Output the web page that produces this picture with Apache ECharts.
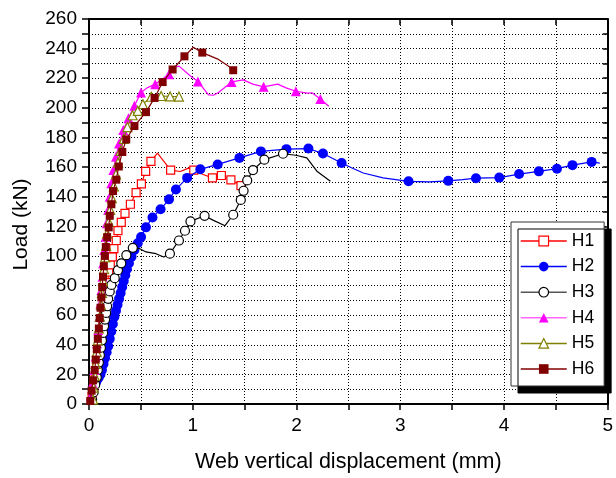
<!DOCTYPE html>
<html><head><meta charset="utf-8">
<script src="https://cdn.jsdelivr.net/npm/echarts@6/dist/echarts.min.js"></script>
<style>html,body{margin:0;padding:0;background:#fff}#c{width:616px;height:478px}</style>
</head><body><div id="c"></div>
<script>
// ---- data (x: web vertical displacement mm, y: load kN) ----
const seriesNames = ['H1','H2','H3','H4','H5','H6'];
const xTicks = [0,1,2,3,4,5];
const yTicks = [0,20,40,60,80,100,120,140,160,180,200,220,240,260];

const h1Line = [[0.02,0],[0.03,5],[0.045,12],[0.06,19],[0.075,26],[0.09,33],[0.105,40],[0.12,47],[0.135,54],[0.15,61],[0.16,68],[0.17,75],[0.18,82],[0.19,89],[0.205,94],[0.225,99.3],[0.24,104.9],[0.263,110.4],[0.279,117.1],[0.311,122.7],[0.347,128.7],[0.399,134.9],[0.454,142.7],[0.505,148.7],[0.546,157.1],[0.597,163.8],[0.66,169.5],[0.787,158],[0.88,157],[0.96,159.3],[1.01,158],[1.1,155],[1.19,152.7],[1.276,154.3],[1.368,151.3],[1.465,147.5]];
const h1Marks = [[0.03,5],[0.045,12],[0.06,19],[0.075,26],[0.09,33],[0.105,40],[0.12,47],[0.135,54],[0.15,61],[0.16,68],[0.17,75],[0.18,82],[0.19,89],[0.205,94],[0.225,99.3],[0.24,104.9],[0.263,110.4],[0.279,117.1],[0.311,122.7],[0.347,128.7],[0.399,134.9],[0.454,142.7],[0.505,148.7],[0.546,157.1],[0.597,163.8],[0.787,158],[1.01,158],[1.19,152.7],[1.276,154.3],[1.368,151.3],[1.465,147.5]];

const h2Line = [[0.07,15],[0.08,16.5],[0.095,18],[0.11,20],[0.125,23],[0.14,27],[0.155,31],[0.17,35],[0.185,39],[0.2,44],[0.215,49],[0.23,54],[0.245,59],[0.26,63],[0.275,67],[0.29,71],[0.305,75],[0.32,79],[0.335,83],[0.35,87],[0.365,91],[0.385,95],[0.41,99.5],[0.438,104],[0.47,108.5],[0.502,112.7],[0.549,119.3],[0.612,126],[0.69,131.5],[0.771,138.2],[0.838,144.9],[0.946,152.7],[1.073,158.5],[1.24,161.8],[1.45,166.2],[1.657,170.6],[1.903,172.1],[2.115,172.5],[2.255,169.2],[2.435,162.8],[2.53,159.5],[2.644,156],[2.835,152.7],[3.08,150.4],[3.28,150],[3.463,150.7],[3.6,151.5],[3.73,152.5],[3.955,152.9],[4.146,155.3],[4.336,157.1],[4.511,158.9],[4.66,161.3],[4.845,163.5],[4.924,162.7]];
const h2Marks = [[0.07,15],[0.08,16.5],[0.095,18],[0.11,20],[0.125,23],[0.14,27],[0.155,31],[0.17,35],[0.185,39],[0.2,44],[0.215,49],[0.23,54],[0.245,59],[0.26,63],[0.275,67],[0.29,71],[0.305,75],[0.32,79],[0.335,83],[0.35,87],[0.365,91],[0.385,95],[0.41,99.5],[0.438,104],[0.47,108.5],[0.502,112.7],[0.549,119.3],[0.612,126],[0.69,131.5],[0.771,138.2],[0.838,144.9],[0.946,152.7],[1.073,158.5],[1.24,161.8],[1.45,166.2],[1.657,170.6],[1.903,172.1],[2.115,172.5],[2.255,169.2],[2.435,162.8],[3.08,150.4],[3.463,150.7],[3.73,152.5],[3.955,152.9],[4.146,155.3],[4.336,157.1],[4.511,158.9],[4.66,161.3],[4.845,163.5]];

const h3Line = [[0.02,0],[0.03,3],[0.045,8],[0.06,13],[0.075,18],[0.085,23],[0.095,28],[0.105,33],[0.115,38],[0.125,43],[0.136,48],[0.145,52.5],[0.155,57],[0.165,61.5],[0.175,66],[0.185,71],[0.2,76],[0.216,80.4],[0.248,85],[0.279,90.4],[0.311,95],[0.36,100.5],[0.422,105.5],[0.486,105],[0.549,102.7],[0.645,101.5],[0.72,99.3],[0.78,101.5],[0.867,110.4],[0.925,117],[0.978,123.3],[1.114,127.1],[1.2,124],[1.311,120.4],[1.39,127.8],[1.463,137.8],[1.49,144],[1.525,151],[1.581,158],[1.69,165],[1.87,169],[1.994,168],[2.1,166.2],[2.2,157],[2.327,150.4]];
const h3Marks = [[0.03,3],[0.045,8],[0.06,13],[0.075,18],[0.085,23],[0.095,28],[0.105,33],[0.115,38],[0.125,43],[0.136,48],[0.145,52.5],[0.155,57],[0.165,61.5],[0.175,66],[0.185,71],[0.2,76],[0.216,80.4],[0.248,85],[0.279,90.4],[0.311,95],[0.36,100.5],[0.422,105.5],[0.78,101.5],[0.867,110.4],[0.925,117],[0.978,123.3],[1.114,127.1],[1.39,127.8],[1.463,137.8],[1.49,144],[1.525,151],[1.581,158],[1.69,165],[1.87,169]];

const h4Line = [[0.01,0],[0.018,5],[0.035,14],[0.05,23],[0.065,32],[0.077,41],[0.09,50],[0.1,59],[0.11,68],[0.12,77],[0.13,86],[0.137,95],[0.148,104],[0.16,113],[0.17,122],[0.185,131],[0.2,140],[0.215,149],[0.235,158],[0.26,167],[0.29,176],[0.33,185],[0.38,193],[0.438,201.5],[0.502,210.4],[0.56,213.5],[0.638,216],[0.771,222.7],[0.803,227],[0.867,228.2],[0.978,221.5],[1.05,217.8],[1.152,208.7],[1.2,208.5],[1.248,210.4],[1.375,217.5],[1.486,218.9],[1.58,216],[1.683,214.2],[1.819,216],[1.9,213.5],[1.994,211.2],[2.105,210],[2.15,210.2],[2.23,206],[2.311,201.1]];
const h4Marks = [[0.018,5],[0.035,14],[0.05,23],[0.065,32],[0.077,41],[0.09,50],[0.1,59],[0.11,68],[0.12,77],[0.13,86],[0.137,95],[0.148,104],[0.16,113],[0.17,122],[0.185,131],[0.2,140],[0.215,149],[0.235,158],[0.26,167],[0.29,176],[0.33,185],[0.38,193],[0.438,201.5],[0.502,210.4],[0.638,216],[0.771,222.7],[1.05,217.8],[1.375,217.5],[1.683,214.2],[1.994,211.2],[2.23,206]];

const h5Line = [[0.04,0],[0.04,3],[0.045,11],[0.055,19],[0.065,27],[0.075,35],[0.085,43],[0.095,51],[0.105,59],[0.115,67],[0.125,75],[0.135,83],[0.145,91],[0.155,99],[0.165,107],[0.175,115],[0.19,123],[0.205,131],[0.22,139],[0.24,147],[0.26,155],[0.28,163],[0.305,171],[0.335,179],[0.37,187],[0.42,195],[0.47,198],[0.52,202.5],[0.6,207.5],[0.695,208],[0.782,207.7],[0.867,207.6],[0.9,205]];
const h5Marks = [[0.04,3],[0.045,11],[0.055,19],[0.065,27],[0.075,35],[0.085,43],[0.095,51],[0.105,59],[0.115,67],[0.125,75],[0.135,83],[0.145,91],[0.155,99],[0.165,107],[0.175,115],[0.19,123],[0.205,131],[0.22,139],[0.24,147],[0.26,155],[0.28,163],[0.305,171],[0.335,179],[0.37,187],[0.42,195],[0.47,198],[0.52,202.5],[0.6,207.5],[0.695,208],[0.782,207.7],[0.867,207.6]];

const h6Line = [[0.01,0],[0.012,2],[0.025,9],[0.04,16],[0.055,23],[0.065,30],[0.075,37],[0.085,44],[0.095,51],[0.103,58],[0.111,65],[0.119,72],[0.127,79],[0.135,86],[0.143,93],[0.152,100],[0.162,106],[0.175,112.7],[0.19,119.3],[0.2,127.1],[0.216,134.9],[0.232,143.8],[0.263,151.5],[0.287,160.4],[0.321,170.2],[0.359,178.7],[0.438,187.7],[0.549,197.1],[0.632,206.7],[0.71,217.4],[0.806,225.9],[0.92,234.8],[1.005,240.9],[1.092,237.3],[1.248,232.7],[1.343,228.2],[1.39,225.4]];
const h6Marks = [[0.012,2],[0.025,9],[0.04,16],[0.055,23],[0.065,30],[0.075,37],[0.085,44],[0.095,51],[0.103,58],[0.111,65],[0.119,72],[0.127,79],[0.135,86],[0.143,93],[0.152,100],[0.162,106],[0.175,112.7],[0.19,119.3],[0.2,127.1],[0.216,134.9],[0.232,143.8],[0.263,151.5],[0.287,160.4],[0.321,170.2],[0.359,178.7],[0.438,187.7],[0.549,197.1],[0.632,206.7],[0.71,217.4],[0.806,225.9],[0.92,234.8],[1.092,237.3],[1.39,225.4]];

const lines = [h1Line,h2Line,h3Line,h4Line,h5Line,h6Line];
const marks = [h1Marks,h2Marks,h3Marks,h4Marks,h5Marks,h6Marks];

// ---- styles ----
const colors = ['#ff0000','#0000ff','#000000','#ff00ff','#808000','#800000'];
const legendLineColors = ['#ff0000','#0000ff','#555555','#ff66ff','#808000','#800000'];
const symbols = ['rect','circle','circle','triangle','triangle','rect'];
const hollow = [true,false,true,false,true,false];
const sizes = [8,10,9,10,9,8];
const FONT = 'Liberation Sans, Arial, sans-serif';

const series = [];
seriesNames.forEach((n,i)=>{
  series.push({
    name:n, type:'line', data:lines[i], symbol:symbols[i], showSymbol:false,
    lineStyle:{color:colors[i], width:1.2}, itemStyle:{color:colors[i]},
    silent:true, animation:false, z:2+i*2
  });
  series.push({
    name:n, type:'scatter', data:marks[i], symbol:symbols[i], symbolSize:sizes[i],
    itemStyle: hollow[i] ? {color:'#fff', borderColor:colors[i], borderWidth:1.2, opacity:1}
                         : {color:colors[i], opacity:1},
    silent:true, animation:false, z:3+i*2
  });
});

const dotted = {color:'#000', type:[1,2], width:1};
const chart = echarts.init(document.getElementById('c'), null, {renderer:'canvas'});
chart.setOption({
  animation:false,
  backgroundColor:'#fff',
  textStyle:{fontFamily:FONT},
  grid:{left:89, top:19, width:525, height:390, containLabel:false},
  xAxis:[{
    type:'value', position:'bottom', min:0, max:5, interval:1,
    name:'Web vertical displacement (mm)', nameLocation:'middle', nameGap:47,
    nameTextStyle:{fontSize:21.5, color:'#000', fontFamily:FONT},
    axisLine:{show:true, onZero:false, lineStyle:{color:'#000', width:2}},
    axisTick:{show:true, inside:false, length:6, lineStyle:{color:'#000', width:1.5}},
    minorTick:{show:true, splitNumber:2, length:6, lineStyle:{color:'#000', width:1.5}},
    splitLine:{show:true, lineStyle:dotted},
    minorSplitLine:{show:true, lineStyle:dotted},
    axisLabel:{fontSize:19, color:'#000', margin:12, fontFamily:FONT,
      formatter:v=> xTicks.includes(v) ? String(v) : ''}
  },{
    type:'value', position:'top', min:0, max:5, interval:0.5,
    axisLine:{show:true, onZero:false, lineStyle:{color:'#000', width:2}},
    axisTick:{show:true, inside:true, length:6, lineStyle:{color:'#000', width:1.5}},
    axisLabel:{show:false}, splitLine:{show:false}
  }],
  yAxis:[{
    type:'value', position:'left', min:0, max:260, interval:20,
    name:'Load (kN)', nameLocation:'middle', nameGap:57, nameRotate:90,
    nameTextStyle:{fontSize:21, color:'#000', fontFamily:FONT, padding:[0,26,0,0]},
    axisLine:{show:true, onZero:false, lineStyle:{color:'#000', width:2}},
    axisTick:{show:true, inside:false, length:7, lineStyle:{color:'#000', width:1.5}},
    minorTick:{show:true, splitNumber:2, length:7, lineStyle:{color:'#000', width:1.5}},
    splitLine:{show:true, lineStyle:dotted},
    minorSplitLine:{show:true, lineStyle:dotted},
    axisLabel:{fontSize:19, color:'#000', margin:12, fontFamily:FONT,
      formatter:v=> yTicks.includes(v) ? String(v) : ''}
  },{
    type:'value', position:'right', min:0, max:260, interval:10,
    axisLine:{show:true, onZero:false, lineStyle:{color:'#000', width:2}},
    axisTick:{show:true, inside:true, length:5, lineStyle:{color:'#000', width:1.5}},
    axisLabel:{show:false}, splitLine:{show:false}
  }],
  legend:{
    orient:'vertical', left:511, top:222,
    padding:[10,10,8,9], itemGap:7.6, itemWidth:46, itemHeight:12,
    backgroundColor:'#fff', borderColor:'#333', borderWidth:1,
    shadowColor:'#000', shadowBlur:0, shadowOffsetX:7, shadowOffsetY:7,
    textStyle:{fontSize:17.5, color:'#000', fontFamily:FONT, lineHeight:17},
    data: seriesNames.map((n,i)=>({
      name:n,
      itemStyle: hollow[i] ? {color:'#fff', borderColor:colors[i], borderWidth:1.2}
                           : {color:colors[i], borderWidth:0},
      lineStyle:{color:legendLineColors[i], width:1.5}
    }))
  },
  series: series
});
</script></body></html>
